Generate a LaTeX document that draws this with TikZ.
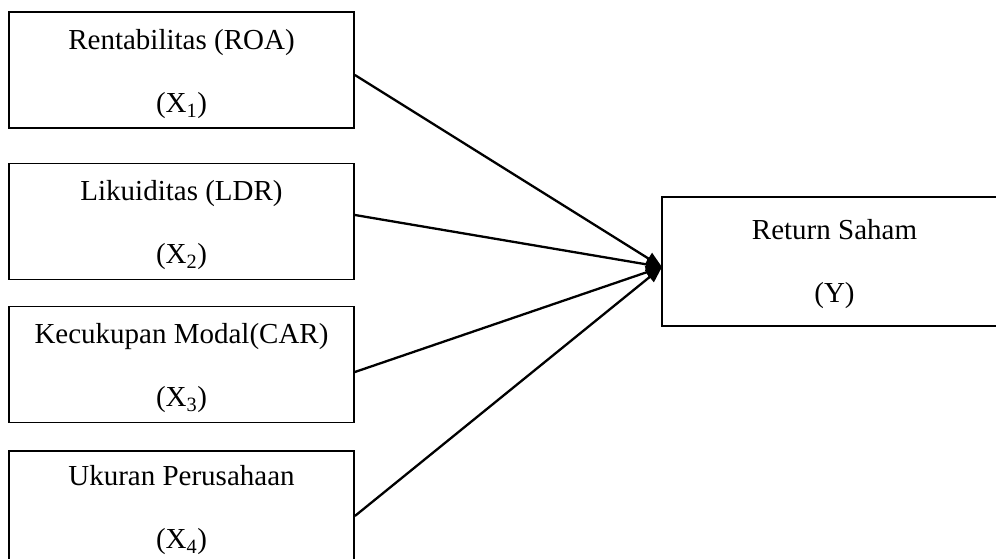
\documentclass[tikz,border=0pt]{standalone}
\usepackage{fontspec}
\setmainfont{Liberation Serif}
\usetikzlibrary{arrows.meta}
\begin{document}
\begin{tikzpicture}[x=1pt,y=-1pt,
  varbox/.style={draw=black,line width=1.8pt,rectangle,minimum width=345pt,minimum height=116pt,inner sep=0pt},
  vartext/.style={inner sep=0pt,align=center,font=\fontsize{29}{63}\selectfont},
  link/.style={line width=2.3pt,-{Triangle[length=16pt,width=13pt]}}]
\useasboundingbox (0,0) rectangle (996,559);
\clip (0,0) rectangle (996,559);
\node[varbox] (x1) at (181.5,70) {};
\node[varbox] (x2) at (181.5,221.5) {};
\node[varbox] (x3) at (181.5,364.5) {};
\node[varbox] (x4) at (181.5,509) {};
\node[varbox,minimum height=129pt] (y) at (834.5,261.5) {};
\node[vartext] (t1) at ([yshift=-4pt]x1.center) {Rentabilitas (ROA)\\(X\textsubscript{1})};
\node[vartext] (t2) at ([yshift=-4pt]x2.center) {Likuiditas (LDR)\\(X\textsubscript{2})};
\node[vartext] (t3) at ([yshift=-4pt]x3.center) {Kecukupan Modal(CAR)\\(X\textsubscript{3})};
\node[vartext] (t4) at ([yshift=-1pt]x4.center) {Ukuran Perusahaan\\(X\textsubscript{4})};
\node[vartext] (ty) at ([yshift=-3pt]y.center) {Return Saham\\(Y)};
\coordinate (tip) at (662,267);
\draw[link] ([yshift=-5pt]x1.east) -- (tip);
\draw[link] ([yshift=6.5pt]x2.east) -- (tip);
\draw[link] ([yshift=-7.5pt]x3.east) -- (tip);
\draw[link] ([yshift=-7pt]x4.east) -- (tip);
\end{tikzpicture}
\end{document}
